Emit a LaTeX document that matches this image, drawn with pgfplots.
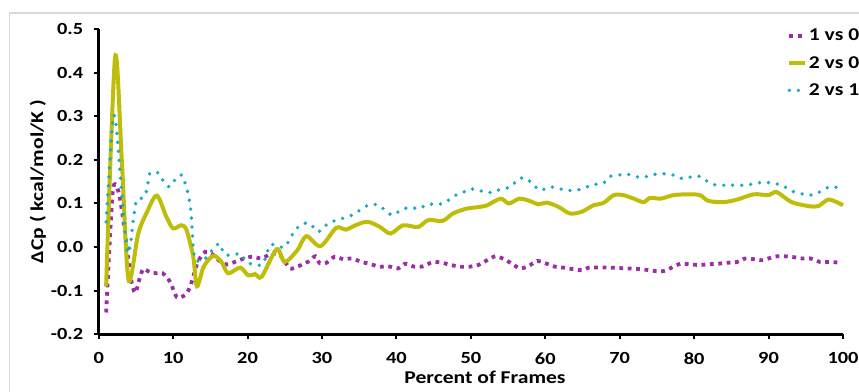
\documentclass[border=0pt]{standalone}
\usepackage{pgfplots}
\pgfplotsset{compat=1.18}
\usepackage{fontspec}
\setmainfont{Carlito}[FakeStretch=1.2]
\definecolor{cmag}{RGB}{155,45,165}
\definecolor{colive}{RGB}{190,190,10}
\definecolor{ccyan}{RGB}{25,172,192}
\begin{document}
\begin{tikzpicture}
\useasboundingbox (0pt,0pt) rectangle (859pt,391pt);
\draw[black!15, line width=1.2pt] (9.5pt,-20pt) rectangle (880pt,378pt);
\begin{axis}[
  at={(98.7pt,56.7pt)}, anchor=south west,
  scale only axis, width=744.3pt, height=305.3pt,
  xmin=0, xmax=100, ymin=-0.2, ymax=0.5,
  axis x line*=bottom, axis y line*=left,
  xtick={0,10,20,30,40,50,60,70,80,90,100},
  ytick={-0.2,-0.1,0,0.1,0.2,0.3,0.4,0.5},
  tick align=outside, major tick length=5pt,
  axis line style={line width=2.5pt, black},
  every tick/.style={black, line width=2pt},
  /pgf/number format/assume math mode=true,
  yticklabel style={/pgf/number format/fixed, /pgf/number format/fixed zerofill, /pgf/number format/precision=1, xshift=-7pt},
  xticklabel style={yshift=-12pt, inner sep=1pt},
  tick label style={font=\bfseries\fontsize{17}{17}\selectfont},
  xlabel={Percent of Frames},
  ylabel={ΔCp ( kcal/mol/K )},
  label style={font=\bfseries\fontsize{18}{18}\selectfont},
  xlabel style={at={(axis description cs:0.519,-0.16)}, anchor=base, inner sep=1pt},
  ylabel style={at={(axis description cs:-0.0816,0.5)}, anchor=center, rotate=0},
  legend style={at={(0.925,1.005)}, anchor=north west, draw=none, fill=none,
    font=\bfseries\fontsize{18}{18}\selectfont, row sep=11pt, inner sep=0pt,
    nodes={inner sep=1.5pt}},
  legend cell align=left,
  legend image code/.code={\draw[#1] (0pt,0pt) -- (16pt,0pt);},
  clip=false,
]
\addplot[cmag, line width=3.8pt, dash pattern=on 3.8pt off 4.6pt, smooth, tension=0.4] coordinates {
(1,-0.15)(1.9,0.13)(2.7,0.125)(3.4,0.05)(4.3,-0.07)(4.9,-0.105)(5.5,-0.072)(6,-0.05)(6.9,-0.058)(7.8,-0.06)(8.6,-0.06)(9.6,-0.08)(10.5,-0.115)(11.6,-0.11)(12.3,-0.09)(13.3,-0.035)(14.3,-0.011)(15.4,-0.018)(16.1,-0.03)(17.2,-0.04)(18.3,-0.034)(19.4,-0.027)(20.6,-0.022)(21.9,-0.026)(23.2,-0.015)(24.4,-0.019)(25.7,-0.049)(26.8,-0.044)(28.1,-0.034)(29.1,-0.021)(29.7,-0.037)(30.6,-0.036)(31.7,-0.022)(32.9,-0.028)(34,-0.026)(35.3,-0.034)(36.5,-0.039)(37.7,-0.045)(38.9,-0.044)(40.2,-0.049)(41.2,-0.038)(42.4,-0.045)(43.6,-0.044)(44.9,-0.034)(46.1,-0.036)(47.3,-0.041)(48.5,-0.045)(49.8,-0.045)(51,-0.041)(52.2,-0.03)(53.3,-0.021)(54.5,-0.028)(55.5,-0.038)(56.6,-0.049)(57.7,-0.044)(58.9,-0.032)(60,-0.037)(61.3,-0.045)(62.4,-0.047)(63.5,-0.05)(64.9,-0.053)(65.9,-0.047)(67.1,-0.047)(68.5,-0.047)(69.8,-0.048)(71,-0.049)(72.3,-0.05)(73.5,-0.052)(74.8,-0.055)(75.9,-0.055)(77,-0.047)(78.2,-0.038)(79.5,-0.04)(80.8,-0.041)(82.1,-0.039)(83.3,-0.038)(84.4,-0.036)(85.8,-0.034)(86.9,-0.026)(88.1,-0.028)(89.3,-0.03)(90.7,-0.022)(92,-0.021)(93.3,-0.023)(94.5,-0.026)(95.6,-0.026)(96.9,-0.034)(98.3,-0.034)(99.6,-0.036)
};
\addlegendentry{1 vs 0}
\addplot[colive, line width=4pt, smooth, tension=0.5] coordinates {
(1,-0.09)(2.2,0.435)(3.1,0.2)(4,-0.075)(5.3,0.03)(6.4,0.077)(7.8,0.118)(9.1,0.069)(10,0.043)(11.1,0.05)(11.8,0.039)(12.7,-0.022)(13.2,-0.09)(14.1,-0.045)(15.4,-0.02)(16.5,-0.034)(17.4,-0.06)(19,-0.047)(20.1,-0.065)(21,-0.062)(21.9,-0.068)(23.9,-0.005)(25,-0.034)(26.7,-0.007)(27.9,0.025)(29.8,0.002)(31.9,0.044)(33.2,0.04)(34.5,0.05)(36.1,0.058)(37.8,0.046)(39.2,0.031)(40.9,0.05)(42.9,0.046)(44.3,0.062)(46.2,0.06)(47.6,0.077)(49.4,0.088)(51.2,0.092)(52.1,0.095)(54,0.111)(55.1,0.1)(56.5,0.111)(57.7,0.107)(59.1,0.098)(60.2,0.102)(61.8,0.092)(63.3,0.077)(64.9,0.081)(66.5,0.096)(67.8,0.101)(69.2,0.119)(70.5,0.119)(71.9,0.111)(73.2,0.103)(74.1,0.113)(75.5,0.111)(77.2,0.119)(79.2,0.121)(80.8,0.119)(81.9,0.106)(83.9,0.103)(85.8,0.109)(88,0.121)(90,0.119)(91.1,0.126)(93.1,0.103)(95.4,0.094)(96.7,0.094)(98.1,0.109)(100,0.096)
};
\addlegendentry{2 vs 0}
\addplot[ccyan, line width=3.8pt, line cap=round, dash pattern=on 0pt off 9pt, smooth, tension=0.4] coordinates {
(1,0.058)(1.9,0.294)(2.4,0.27)(3.1,0.123)(3.85,-0.011)(4.3,0.01)(4.65,0.062)(5.1,0.108)(6,0.113)(6.45,0.13)(6.9,0.17)(8,0.17)(8.7,0.151)(9.5,0.138)(10.3,0.155)(11.2,0.165)(12,0.123)(12.4,0.08)(12.7,0.0)(13,-0.03)(14.1,-0.03)(15.6,0.0)(16.3,0.008)(16.8,-0.015)(17.9,-0.019)(19,-0.015)(19.9,-0.034)(21,-0.041)(22.1,-0.038)(23,0.004)(23.9,0.004)(25,0.0)(26.4,0.039)(27.5,0.054)(28.4,0.054)(29.5,0.035)(30.8,0.054)(32,0.062)(34,0.073)(36.2,0.096)(37.6,0.096)(39.4,0.073)(40.5,0.084)(41.7,0.091)(43,0.088)(44.2,0.098)(45.4,0.098)(46.5,0.101)(47.6,0.116)(48.8,0.124)(49.9,0.133)(51,0.131)(52.2,0.124)(53.5,0.13)(54.6,0.134)(55.5,0.14)(56.4,0.157)(57.5,0.157)(58.4,0.142)(59.4,0.13)(60.6,0.138)(61.8,0.134)(62.9,0.13)(64.2,0.13)(65.6,0.138)(66.7,0.144)(67.8,0.146)(68.7,0.162)(69.8,0.165)(71,0.167)(72.3,0.161)(73.4,0.161)(74.8,0.167)(75.9,0.168)(77.2,0.165)(78.4,0.157)(79.7,0.161)(80.8,0.162)(81.9,0.149)(83,0.142)(84.4,0.142)(85.7,0.142)(87,0.142)(88.3,0.146)(89.4,0.149)(90.7,0.146)(91.8,0.142)(92.9,0.13)(94,0.124)(95.4,0.119)(96.5,0.123)(97.6,0.134)(98.7,0.139)(100,0.13)
};
\addlegendentry{2 vs 1}
\end{axis}
\end{tikzpicture}
\end{document}
